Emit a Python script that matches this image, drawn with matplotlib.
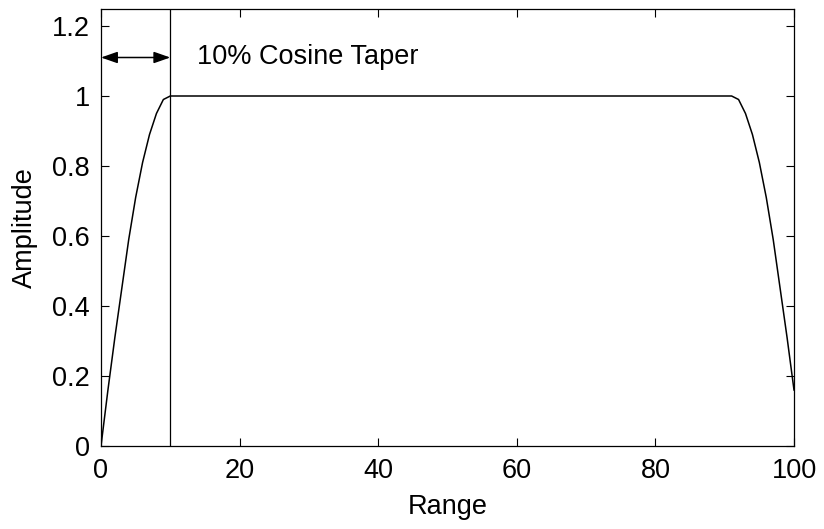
import matplotlib
matplotlib.use("Agg")
import matplotlib.pyplot as plt
from matplotlib.ticker import FormatStrFormatter

plt.rcParams['font.family'] = ['Liberation Sans', 'DejaVu Sans']

# Curve vertices
range_x = [0, 1, 2, 3, 4, 5, 6, 7, 8, 9, 10,
           91, 92, 93, 94, 95, 96, 97, 98, 99, 100]
amplitude = [0.0, 0.16, 0.31, 0.45, 0.59, 0.71, 0.81, 0.89, 0.95, 0.99, 1.0,
             1.0, 0.99, 0.95, 0.89, 0.81, 0.71, 0.59, 0.45, 0.31, 0.16]

taper_edge = 10
arrow_y = 1.11
label_text = "10% Cosine Taper"
x_ticks = [0, 20, 40, 60, 80, 100]
y_ticks = [0, 0.2, 0.4, 0.6, 0.8, 1.0, 1.2]

fs = 19.5
fig = plt.figure(figsize=(8.24, 5.29), dpi=100)
ax = fig.add_axes([101/824, 1 - 446/529, (794-101)/824, (446-8.5)/529])

ax.plot(range_x, amplitude, color='black', lw=1.1)
ax.axvline(taper_edge, color='black', lw=0.9)

ax.annotate('', xy=(0, arrow_y), xytext=(taper_edge, arrow_y),
            arrowprops=dict(arrowstyle='<|-|>,head_length=1.0,head_width=0.35',
                            color='black', lw=1.1, shrinkA=0, shrinkB=0))
ax.text(13.8, arrow_y, label_text, fontsize=fs, ha='left', va='center')

ax.set_xlim(0, 100)
ax.set_ylim(0, 1.25)
ax.set_xticks(x_ticks)
ax.set_yticks(y_ticks)
ax.yaxis.set_major_formatter(FormatStrFormatter('%g'))
ax.tick_params(direction='in', length=6, width=0.8, labelsize=fs,
               top=True, right=True)
ax.tick_params(axis='x', pad=9)
ax.tick_params(axis='y', pad=8)
for s in ax.spines.values():
    s.set_linewidth(0.9)
ax.set_xlabel('Range', fontsize=fs, labelpad=7)
ax.set_ylabel('Amplitude', fontsize=fs, labelpad=10)

fig.savefig('out.png', dpi=100)
